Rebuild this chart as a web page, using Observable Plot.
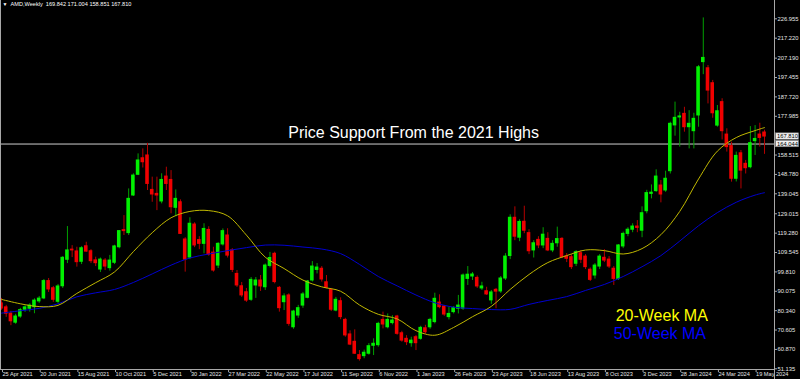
<!DOCTYPE html>
<html>
<head>
<meta charset="utf-8">
<script src="https://cdn.jsdelivr.net/npm/d3@7"></script>
<script src="https://cdn.jsdelivr.net/npm/@observablehq/plot@0.6"></script>
<style>
  html, body { margin: 0; padding: 0; background: #000; }
  #chart { width: 800px; height: 379px; overflow: hidden; background: #000; }
</style>
</head>
<body>
<div id="chart"></div>
<script>
// ---- Weekly AMD candles, week index 0 = week of 25 Apr 2021 ----
const openPrices = [84.0,82.0,78.8,74.3,77.4,80.8,81.3,82.1,85.0,86.5,95.2,91.6,84.8,92.6,105.9,111.0,110.1,104.9,112.7,110.2,
105.6,101.0,105.5,101.7,104.4,112.2,120.8,119.3,138.2,148.6,156.9,158.3,141.0,139.0,135.2,147.7,146.0,132.0,134.8,116.1,
107.0,123.6,115.8,113.9,120.9,109.5,103.0,113.6,118.1,110.6,98.8,92.6,89.6,85.8,93.0,95.5,92.1,102.8,108.9,91.8,
84.6,88.0,72.0,77.9,82.9,86.8,95.5,100.8,101.4,94.6,90.8,80.4,85.1,75.7,68.4,64.7,58.0,57.5,58.7,62.7,
63.0,75.7,72.0,74.1,77.4,69.0,66.2,64.0,67.0,66.2,71.5,72.0,74.6,84.4,82.4,77.1,79.6,81.3,81.3,96.3,
97.5,96.8,91.5,90.1,85.5,90.8,90.0,96.5,107.8,127.0,117.0,125.0,119.3,110.6,115.9,113.1,116.4,110.6,114.2,116.4,
107.6,107.2,103.9,109.2,107.5,100.9,98.0,102.5,106.9,106.0,101.4,96.3,112.6,118.9,121.0,122.6,120.5,130.3,139.0,140.4,
143.2,140.7,150.4,173.4,177.4,179.2,172.5,170.5,178.4,205.2,202.1,194.6,173.3,185.1,168.8,163.0,146.6,159.4,154.1,152.4,
165.5,168.8,169.842];
const highPrices = [86.5,83.0,80.0,78.5,81.5,82.8,83.8,86.3,87.5,96.0,96.5,92.5,93.5,107.5,122.6,113.0,112.2,112.5,114.7,111.0,
107.2,106.8,106.5,108.1,113.2,120.6,128.1,141.5,149.1,159.1,161.6,164.4,147.4,147.4,149.1,152.4,150.7,141.0,136.0,117.0,
127.0,124.5,117.5,124.0,122.5,112.2,114.5,121.4,121.5,111.5,100.5,94.5,91.5,97.0,97.0,98.0,103.8,109.6,109.7,92.5,
88.8,88.8,80.5,83.0,89.5,95.5,105.0,104.0,102.5,98.0,91.5,87.0,86.8,76.5,70.2,70.7,60.3,60.5,63.8,66.2,
74.5,79.6,78.7,77.8,78.0,70.0,67.8,67.0,67.9,72.5,73.0,76.5,89.1,88.3,83.0,82.1,82.4,88.0,98.8,102.5,
99.5,97.8,94.6,92.1,90.5,91.5,97.5,109.0,128.5,132.5,126.0,132.8,121.0,115.5,117.5,122.0,119.5,115.5,122.3,117.0,
109.0,108.5,110.5,110.5,108.5,101.8,104.0,108.5,111.0,107.5,102.5,113.5,119.8,122.0,124.0,125.6,132.5,140.8,143.5,151.1,
145.7,150.4,175.0,185.1,180.0,182.5,180.8,179.5,203.5,227.4,203.5,196.0,183.4,186.8,171.7,165.0,160.0,160.8,155.8,172.8,
173.3,174.5,171.004];
const lowPrices = [80.5,77.0,72.8,73.5,76.5,79.5,79.6,78.8,84.0,85.9,89.5,84.5,83.8,91.5,104.0,107.0,102.2,103.5,109.7,104.0,
102.5,99.5,100.5,100.2,103.5,111.4,118.1,118.1,137.7,148.2,152.0,140.7,134.8,130.6,134.0,140.7,129.0,127.5,118.6,99.7,
106.0,112.0,111.0,108.9,107.7,99.7,101.5,112.8,106.8,99.5,92.0,87.0,84.5,85.0,86.5,90.0,90.5,101.8,93.8,79.6,
80.4,72.5,71.0,76.5,81.5,86.3,94.7,98.8,94.7,91.3,79.9,79.8,75.8,67.0,62.8,58.3,55.0,56.2,58.0,57.8,
62.0,71.2,71.2,73.2,68.0,64.5,62.8,62.0,60.3,65.5,68.5,71.0,73.7,81.3,77.5,75.7,78.7,78.7,80.5,93.0,
95.5,91.5,90.5,88.0,83.5,81.3,89.0,95.5,106.0,115.5,115.0,119.0,108.5,106.8,111.5,111.5,110.0,109.5,112.2,106.5,
104.5,101.0,102.5,104.0,101.0,95.0,96.2,101.0,104.5,101.5,93.0,95.5,111.5,117.5,119.5,119.5,117.0,129.0,136.5,139.8,
134.5,139.8,149.0,168.0,162.5,170.0,161.6,161.6,172.5,198.9,184.2,177.0,172.5,166.1,160.0,144.9,145.0,141.5,149.0,151.6,
158.3,162.5,158.851];
const closePrices = [81.4,78.8,75.0,77.4,80.6,82.0,82.9,85.4,86.4,95.2,91.0,85.8,92.5,106.9,110.6,110.6,104.7,111.7,110.0,105.2,
104.2,106.0,102.5,105.5,112.6,120.3,120.3,136.5,148.2,155.8,154.9,144.0,138.7,138.2,146.0,144.0,132.3,136.5,118.9,106.0,
124.0,113.1,113.9,121.4,108.5,100.5,113.9,120.3,108.0,100.8,93.0,88.0,85.4,95.8,95.5,92.5,103.0,106.8,94.7,81.6,
87.5,73.7,79.9,81.6,88.5,95.0,102.5,102.0,96.0,91.8,80.8,85.8,77.1,67.9,63.3,58.7,56.0,59.2,62.5,63.7,
73.7,73.4,75.7,75.4,68.7,65.3,64.5,65.3,64.0,71.7,69.5,75.7,86.3,82.1,78.4,78.7,81.6,82.9,98.0,98.4,
98.5,92.5,92.5,88.5,89.5,89.9,96.5,107.5,127.0,117.5,124.9,120.5,110.2,114.2,113.1,118.5,110.6,113.9,116.3,107.2,
106.4,102.2,109.7,105.9,102.2,95.8,103.0,107.5,105.5,102.5,96.3,113.1,118.9,121.0,122.6,121.9,129.3,139.4,139.6,147.7,
138.7,146.6,174.2,177.2,177.9,172.5,174.2,176.7,202.6,207.3,190.9,179.5,180.5,170.5,162.5,146.6,158.1,150.7,151.9,164.5,
166.6,167.1,167.810];

// ---- Moving averages (week index, value) ----
const maWeeks = [0,4,8,12,16,20,24,28,32,36,40,44,48,52,56,60,64,68,72,76,80,84,88,92,96,100,104,108,112,116,120,124,128,132,136,140,144,148,152,156,160,162];
const ma20 = [86.0,83.8,82.4,83.0,89.0,94.4,99.8,110.0,119.5,127.0,130.2,130.6,128.0,118.3,107.2,101.5,95.7,92.3,90.1,83.2,78.5,76.2,70.3,68.0,71.9,77.3,82.5,91.0,98.5,104.5,108.0,110.8,110.5,108.8,111.5,118.5,130.2,146.5,160.5,167.3,170.8,172.3];
const ma50 = [79.1,80.3,81.5,83.8,87.3,89.3,91.0,94.5,98.8,103.2,106.8,108.8,110.5,112.0,113.3,113.2,112.3,111.3,109.0,103.6,97.5,92.8,88.2,84.3,82.1,81.4,80.9,81.0,83.5,85.5,87.4,90.5,93.5,97.5,102.4,108.0,115.3,123.0,129.6,134.8,138.4,139.6];

// ---- Axis ticks ----
const xTickWeeks = [0,8,16,24,32,40,48,56,64,72,80,88,96,104,112,120,128,136,144,152,160];
const xTickLabels = ["25 Apr 2021","20 Jun 2021","15 Aug 2021","10 Oct 2021","5 Dec 2021","30 Jan 2022","27 Mar 2022","22 May 2022","17 Jul 2022","11 Sep 2022","6 Nov 2022","1 Jan 2023","26 Feb 2023","23 Apr 2023","18 Jun 2023","13 Aug 2023","8 Oct 2023","3 Dec 2023","28 Jan 2024","24 Mar 2024","19 May 2024"];
const yTicks = [226.955,217.220,207.190,197.455,187.720,177.985,158.515,148.780,139.045,129.015,119.280,109.545,99.810,90.075,80.340,70.605,60.870,51.135];

// ---- Annotations ----
const supportLevel = 164.044;
const lastClose = 167.810;
const headerText = "AMD,Weekly  169.842 171.004 158.851 167.810";
const titleText = "Price Support From the 2021 Highs";
const titleAt = {week: 87.5, price: supportLevel};
const ma20Label = {text: "20-Week MA", week: 130.4, price: 77.9};
const ma50Label = {text: "50-Week MA", week: 130.0, price: 68.9};

// ---- Build tables ----
const candles = openPrices.map((o, i) => ({
  i, open: o, high: highPrices[i], low: lowPrices[i], close: closePrices[i]
}));
const upC = candles.filter(d => d.close >= d.open);
const dnC = candles.filter(d => d.close < d.open);
const maRows20 = maWeeks.map((w, k) => ({w, v: ma20[k]}));
const maRows50 = maWeeks.map((w, k) => ({w, v: ma50[k]}));
const xLabel = new Map(xTickWeeks.map((w, k) => [w, xTickLabels[k]]));

const half = 0.38;
const bodyOpts = (fill) => ({
  x1: d => d.i - half, x2: d => d.i + half,
  y1: "open", y2: "close", fill, insetTop: -0.5, insetBottom: -0.5
});

const plot = Plot.plot({
  width: 800,
  height: 379,
  marginLeft: 0,
  marginRight: 26,
  marginTop: 0,
  marginBottom: 10,
  style: {background: "#000", color: "#e6e6e6", fontFamily: "'Liberation Sans', Arial, sans-serif", overflow: "visible"},
  x: {type: "linear", domain: [-0.2123, 164.12]},
  y: {type: "linear", domain: [50.785, 236.148]},
  marks: [
    Plot.ruleY([supportLevel], {stroke: "#cfcfcf", strokeWidth: 1}),
    Plot.ruleX(upC, {x: "i", y1: "low", y2: "high", stroke: "#00a000", strokeWidth: 1}),
    Plot.ruleX(dnC, {x: "i", y1: "low", y2: "high", stroke: "#b40000", strokeWidth: 1}),
    Plot.rect(upC, bodyOpts("#00f000")),
    Plot.rect(dnC, bodyOpts("#f00000")),
    Plot.line(maRows50, {x: "w", y: "v", stroke: "#0000d0", strokeWidth: 1, curve: "catmull-rom"}),
    Plot.line(maRows20, {x: "w", y: "v", stroke: "#c0b800", strokeWidth: 1, curve: "catmull-rom"}),
    Plot.text([titleText], {x: titleAt.week, y: titleAt.price, dy: -11.5, text: d => d, fill: "#ffffff", fontSize: 16, textAnchor: "middle"}),
    Plot.text([ma20Label], {x: "week", y: "price", text: "text", fill: "#ffff00", fontSize: 16, textAnchor: "start"}),
    Plot.text([ma50Label], {x: "week", y: "price", text: "text", fill: "#0000ff", fontSize: 16, textAnchor: "start"}),
    Plot.text(["\u25BC"], {frameAnchor: "top-left", text: d => d, dx: 2, dy: 2, fontSize: 5, fill: "#ffffff", textAnchor: "start", lineAnchor: "top"}),
    Plot.text([headerText], {frameAnchor: "top-left", text: d => d, dx: 10, dy: 2, fontSize: 5.6, fill: "#ffffff", textAnchor: "start", lineAnchor: "top"}),
    Plot.axisX({ticks: xTickWeeks, tickFormat: d => xLabel.get(d), tickSize: 3, tickPadding: 0, textAnchor: "start", dx: 1, fontSize: 5.6, stroke: "#a8a8a8", fill: "#e6e6e6"}),
    Plot.axisY({anchor: "right", ticks: yTicks, tickFormat: d => d.toFixed(3), tickSize: 2, tickPadding: 1, fontSize: 5.8, stroke: "#a8a8a8", fill: "#e6e6e6"})
  ]
});

document.getElementById("chart").appendChild(plot);

// frame lines and price boxes
const svg = d3.select(plot);
const ys = plot.scale("y");
const xs = plot.scale("x");
const right = xs.apply(164.12);
const bottom = ys.apply(50.785);
const frame = svg.append("g").attr("stroke", "#a8a8a8").attr("stroke-width", 1);
frame.append("line").attr("x1", 0.5).attr("x2", 0.5).attr("y1", 0).attr("y2", bottom);
frame.append("line").attr("x1", 0).attr("x2", right + 0.5).attr("y1", bottom + 0.5).attr("y2", bottom + 0.5);
frame.append("line").attr("x1", right + 0.5).attr("x2", right + 0.5).attr("y1", 0).attr("y2", 379);

const boxes = svg.append("g").attr("text-anchor", "start");
for (const v of [lastClose, supportLevel]) {
  const y = ys.apply(v);
  boxes.append("rect").attr("x", right + 1.5).attr("y", y - 3.2).attr("width", 23).attr("height", 6.4)
    .attr("fill", "#f0f0f0").attr("stroke", "#808080").attr("stroke-width", 0.6);
  boxes.append("text").attr("x", right + 3).attr("y", y).attr("dy", "0.34em")
    .attr("text-anchor", "start")
    .attr("font-size", 5.8).attr("fill", "#000").attr("font-family", "'Liberation Sans', Arial, sans-serif")
    .text(v.toFixed(3));
}
</script>
</body>
</html>
